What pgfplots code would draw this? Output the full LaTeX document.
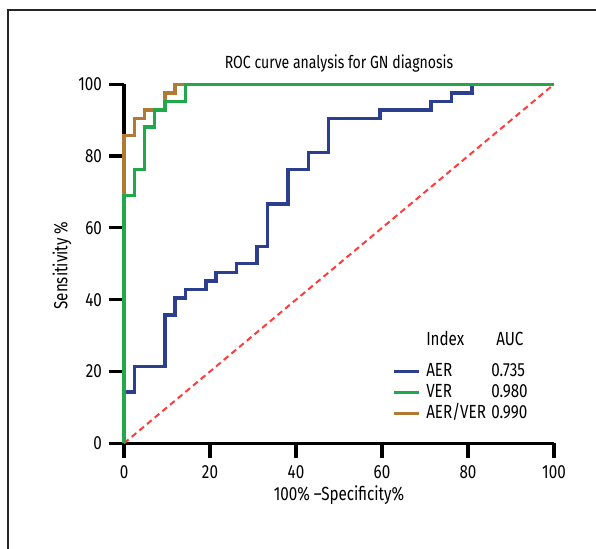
\documentclass[border=0pt]{standalone}
\usepackage{fontspec}
\setmainfont{Fira Sans}[FakeStretch=0.8]
\usepackage{pgfplots}
\pgfplotsset{compat=1.18}
\definecolor{cAER}{HTML}{2B3F8E}
\definecolor{cVER}{HTML}{22A84A}
\definecolor{cAV}{HTML}{B07A34}
\definecolor{cRef}{HTML}{FF3B3B}
\begin{document}
\begin{tikzpicture}[x=1pt,y=1pt]
\useasboundingbox (0,0) rectangle (298,274.5);
\draw[line width=0.8pt, black!85] (4,-2) -- (4,269.5) -- (300,269.5);
\begin{axis}[
  at={(62pt,52.85pt)}, anchor=south west,
  scale only axis, width=215pt, height=179.5pt,
  xmin=0, xmax=100, ymin=0, ymax=100,
  clip=false,
  axis lines=left, axis line style={-, line width=1.6pt, black},
  xtick={0,20,...,100}, ytick={0,20,...,100},
  tick style={line width=1.6pt, black},
  major tick length=7.5pt, tick align=outside,
  font=\fontsize{9.5}{11}\selectfont,
  /pgf/number format/assume math mode=true,
  title={ROC curve analysis for GN diagnosis},
  title style={at={(axis description cs:0.5,1)}, anchor=base, yshift=1.9pt, inner sep=0pt, font=\fontsize{8.8}{10}\selectfont},
  xlabel={100\% –Specificity\%},
  xlabel style={at={(axis description cs:0.5,0)}, anchor=base, yshift=-28.4pt, inner sep=0pt},
  ylabel={Sensitivity \%},
  ylabel style={at={(axis description cs:-0.1442,0.495)}, anchor=center, inner sep=0pt},
  legend style={draw=none, fill=none, at={(axis cs:60.9,29.5)}, anchor=north west,
    nodes={inner sep=0pt, text height=7pt, text depth=2pt, font=\fontsize{9.5}{11}\selectfont},
    row sep=1.5pt, column sep=3pt},
  legend cell align=left,
  legend image code/.code={\draw[#1, line width=1.5pt] (0pt,0pt) -- (12.5pt,0pt);},
]
\addlegendimage{empty legend}
\addlegendentry{\raisebox{4.9pt}{\makebox[35pt][l]{Index}AUC}}
\addlegendimage{cAER}
\addlegendentry{\makebox[32.5pt][l]{AER}0.735}
\addlegendimage{cVER}
\addlegendentry{\makebox[32.5pt][l]{VER}0.980}
\addlegendimage{cAV}
\addlegendentry{\makebox[32.5pt][l]{AER/VER}0.990}

\addplot[cRef, line width=1pt, dash pattern=on 3pt off 2pt, forget plot] coordinates {(0,0) (100,100)};

\addplot[cAER, line width=1.7pt, forget plot] coordinates {
(0,0) (0,14.29) (2.38,14.29) (2.38,21.43) (9.52,21.43) (9.52,35.71)
(11.9,35.71) (11.9,40.48) (14.29,40.48) (14.29,42.86) (19.05,42.86)
(19.05,45.24) (21.43,45.24) (21.43,47.62) (26.19,47.62) (26.19,50)
(30.95,50) (30.95,54.76) (33.33,54.76) (33.33,66.67) (38.1,66.67)
(38.1,76.19) (42.86,76.19) (42.86,80.95) (47.62,80.95) (47.62,90.48)
(59.52,90.48) (59.52,92.86) (71.43,92.86) (71.43,95.24) (76.19,95.24)
(76.19,97.62) (80.95,97.62) (80.95,100) (100,100)};

\addplot[cAV, line width=1.7pt, forget plot] coordinates {
(0,0) (0,85.71) (2.38,85.71) (2.38,90.48) (4.76,90.48) (4.76,92.86)
(9.52,92.86) (9.52,97.62) (11.9,97.62) (11.9,100) (100,100)};

\addplot[cVER, line width=1.7pt, forget plot] coordinates {
(0,0) (0,69.05) (2.38,69.05) (2.38,76.19) (4.76,76.19) (4.76,88.1)
(7.14,88.1) (7.14,92.86) (9.52,92.86) (9.52,95.24) (14.29,95.24)
(14.29,100) (100,100)};
\end{axis}
\end{tikzpicture}
\end{document}
